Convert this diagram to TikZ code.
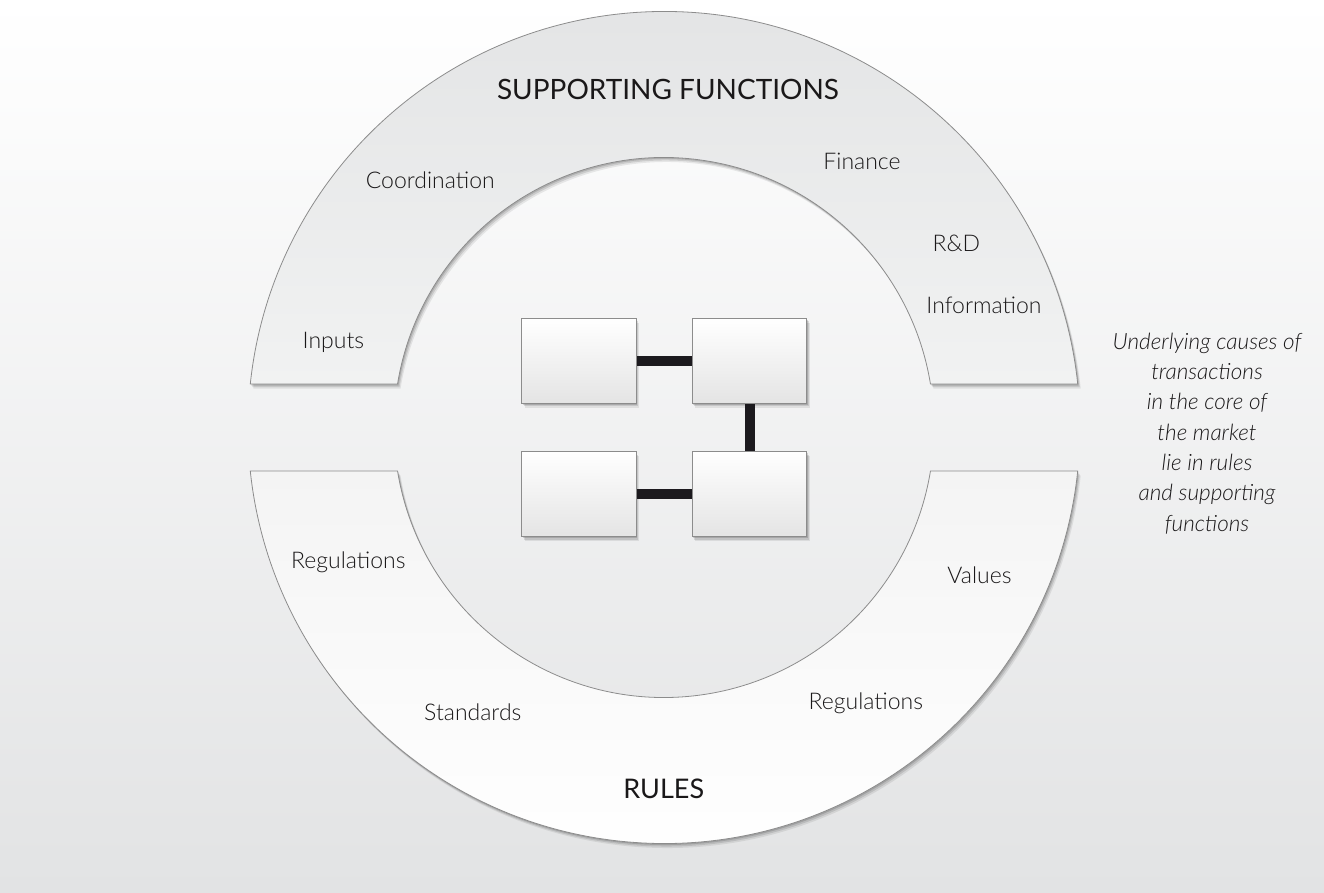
\documentclass[tikz,border=0pt]{standalone}
\usepackage{fontspec}
\setmainfont{Lato}
\newfontfamily\lightfont{Lato Light}
\usetikzlibrary{calc,shadows}
\definecolor{bgtop}{HTML}{FFFFFF}
\definecolor{bgbot}{HTML}{E2E3E4}
\definecolor{archtopA}{HTML}{E3E4E5}
\definecolor{archtopB}{HTML}{F1F2F2}
\definecolor{archbotA}{HTML}{F4F4F4}
\definecolor{archbotB}{HTML}{FFFFFF}
\definecolor{edgegray}{HTML}{8C8C8C}
\definecolor{boxgray}{HTML}{E4E4E4}
\definecolor{inkc}{HTML}{1A1819}
\definecolor{connc}{HTML}{1C1A1E}
\tikzset{
  softshadow/.style={
    general shadow={fill=black,opacity=.14,shadow xshift=1pt,shadow yshift=-1.5pt},
    general shadow={fill=black,opacity=.11,shadow xshift=2pt,shadow yshift=-3pt},
    general shadow={fill=black,opacity=.08,shadow xshift=3pt,shadow yshift=-4.5pt}},
  archup/.style={draw=edgegray,line width=0.8pt,top color=archtopA,bottom color=archtopB,softshadow},
  archdown/.style={draw=edgegray,line width=0.8pt,top color=archbotA,bottom color=archbotB,softshadow},
  corebox/.style={draw=edgegray,line width=1pt,top color=white,bottom color=boxgray,
    minimum width=114.6pt,minimum height=85pt,inner sep=0pt,softshadow},
  conn/.style={draw=connc,line width=10pt},
  item/.style={font=\lightfont\fontsize{23}{26}\selectfont,text=inkc,anchor=base,inner sep=0pt},
  title/.style={font=\fontsize{28}{31}\selectfont,text=inkc,anchor=base,inner sep=0pt},
  note/.style={font=\lightfont\itshape\fontsize{22.5}{30.3}\selectfont,text=inkc,align=center,inner sep=0pt}
}
\begin{document}
\begin{tikzpicture}[x=1pt,y=1pt]
\useasboundingbox (0,0) rectangle (1324,892);
\shade[top color=bgtop,bottom color=bgbot] (0,0) rectangle (1324,892);
\coordinate (C) at (664,464.5);
% supporting functions arch
\path[archup] ($(C)+(6:416)$) arc[start angle=6,end angle=174,radius=416]
  -- ($(C)+(170.73:270)$) arc[start angle=170.73,end angle=9.27,radius=270] -- cycle;
% rules arch
\path[archdown] ($(C)+(-6:416)$) arc[start angle=-6,end angle=-174,radius=416]
  -- ($(C)+(-170.73:270)$) arc[start angle=-170.73,end angle=-9.27,radius=270] -- cycle;
% core boxes
\node[corebox] (b1) at (579,531.2) {};
\node[corebox] (b2) at (749.5,531.2) {};
\node[corebox] (b3) at (579,397.8) {};
\node[corebox] (b4) at (749.5,397.8) {};
\draw[conn] (b1.east) -- (b2.west);
\draw[conn] (b2.south) -- (b4.north);
\draw[conn] (b3.east) -- (b4.west);
% labels
\node[title] (sf) at (668,792) {SUPPORTING FUNCTIONS};
\node[title,font=\fontsize{27}{30}\selectfont] (ru) at (663.8,93.7) {RULES};
\node[item] (coord) at (430.3,703) {Coordination};
\node[item] (inp) at (333.4,543) {Inputs};
\node[item] (fin) at (862,722) {Finance};
\node[item] (rd) at (956.3,640.3) {R\&D};
\node[item] (inf) at (984,578.7) {Information};
\node[item] (regl) at (348.3,323.7) {Regulations};
\node[item] (std) at (472.8,172) {Standards};
\node[item] (val) at (979.5,308.7) {Values};
\node[item] (regr) at (865.8,182.7) {Regulations};
\node[note] (cause) at (1207,458.5) {Underlying causes of\\transactions\\in the core of\\the market\\lie in rules\\and supporting\\functions};
\end{tikzpicture}
\end{document}
